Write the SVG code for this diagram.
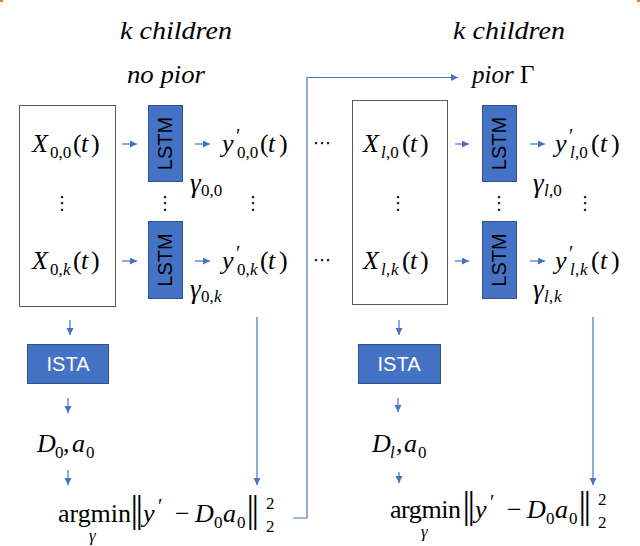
<svg xmlns="http://www.w3.org/2000/svg" width="640" height="546" viewBox="0 0 640 546">
<defs>
<marker id="ah" markerUnits="userSpaceOnUse" markerWidth="8" markerHeight="8" refX="7" refY="3.5" orient="auto">
<path d="M0,0 L7,3.5 L0,7 z" fill="#4472C4"/>
</marker>
<style>
.m{font-family:"Liberation Serif",serif;font-size:26px;fill:#000}
.i{font-style:italic}
.s{font-size:17px}
.p{font-size:20px}
.g{font-size:27px}
.h{font-family:"Liberation Serif",serif;font-style:italic;font-size:25px;fill:#000}
.lbl{font-family:"Liberation Sans",sans-serif;font-size:20px;text-anchor:middle}
.box{fill:#fff;stroke:#595959;stroke-width:1}
.blue{fill:#4472C4;stroke:#2F528F;stroke-width:1}
.arr{stroke:#4472C4;stroke-width:1.2;fill:none;marker-end:url(#ah)}
.dots{font-family:"DejaVu Sans",sans-serif;font-size:18px;text-anchor:middle;fill:#000}
.bar{font-family:"Liberation Serif",serif;font-size:38px}
</style>
</defs>
<rect width="640" height="546" fill="#fff"/>
<rect x="0" y="0" width="3" height="2" fill="#ED7D31"/>
<rect x="637" y="0" width="3" height="2" fill="#ED7D31"/>

<!-- headers -->
<g id="header-left">
<text class="h" x="120" y="39" textLength="112" lengthAdjust="spacingAndGlyphs">k children</text>
<text class="h" x="127" y="83" textLength="78" lengthAdjust="spacingAndGlyphs">no pior</text>
</g>
<g id="header-right">
<text class="h" x="453" y="39" textLength="112" lengthAdjust="spacingAndGlyphs">k children</text>
<text class="h" x="472" y="83">pior <tspan font-style="normal">Γ</tspan></text>
</g>

<!-- left block -->
<g id="input-box-0">
<rect class="box" x="19.5" y="105.5" width="96" height="201"/>
<text class="m"><tspan class="i" x="32" y="152">X</tspan><tspan class="s" x="50" y="158">0,0</tspan><tspan x="73" y="152">(</tspan><tspan class="i" x="81" y="152">t</tspan><tspan x="91" y="152">)</tspan></text>
<text class="dots" x="62" y="209">⋮</text>
<text class="m"><tspan class="i" x="32" y="269">X</tspan><tspan class="s" x="50" y="275">0,</tspan><tspan class="s i" x="63" y="275">k</tspan><tspan x="73" y="269">(</tspan><tspan class="i" x="81" y="269">t</tspan><tspan x="91" y="269">)</tspan></text>
</g>
<g id="lstm-0-0">
<rect class="blue" x="148.5" y="105.5" width="34" height="76"/>
<text class="lbl" x="165" y="150.5" transform="rotate(-90 165 143.5)">LSTM</text>
</g>
<g id="lstm-0-k">
<rect class="blue" x="148.5" y="221.5" width="34" height="77"/>
<text class="lbl" x="165" y="267" transform="rotate(-90 165 260)">LSTM</text>
</g>
<text class="dots" x="165" y="209">⋮</text>
<g id="y-0-0">
<text class="m"><tspan class="i" x="222" y="152">y</tspan><tspan class="p" x="236" y="143">′</tspan><tspan class="s" x="237" y="158">0,0</tspan><tspan x="260" y="152">(</tspan><tspan class="i" x="268" y="152">t</tspan><tspan x="279" y="152">)</tspan></text>
<text class="m"><tspan class="i g" x="190" y="192">γ</tspan><tspan class="s" x="201" y="196">0,0</tspan></text>
</g>
<text class="dots" x="253" y="209">⋮</text>
<g id="y-0-k">
<text class="m"><tspan class="i" x="222" y="269">y</tspan><tspan class="p" x="236" y="260">′</tspan><tspan class="s" x="237" y="275">0,</tspan><tspan class="s i" x="250" y="275">k</tspan><tspan x="260" y="269">(</tspan><tspan class="i" x="268" y="269">t</tspan><tspan x="279" y="269">)</tspan></text>
<text class="m"><tspan class="i g" x="190" y="298">γ</tspan><tspan class="s" x="201" y="302">0,</tspan><tspan class="s i" x="214" y="302">k</tspan></text>
</g>
<g id="ista-0">
<rect class="blue" x="27.5" y="344.5" width="81" height="39"/>
<text class="lbl" x="68" y="371" fill="#fff" font-size="21">ISTA</text>
</g>
<g id="d-0">
<text class="m"><tspan class="i" x="37" y="452">D</tspan><tspan class="s" x="55" y="458">0</tspan><tspan x="63" y="452">,</tspan><tspan class="i" x="72" y="452">a</tspan><tspan class="s" x="86" y="458">0</tspan></text>
</g>
<g id="argmin-0">
<text class="m" x="58" y="522" textLength="73">argmin</text>
<text class="m i s" x="89" y="541">γ</text>
<text class="bar"><tspan x="130.5" y="522">|</tspan><tspan x="135.5" y="522">|</tspan></text>
<text class="m"><tspan class="i" x="143" y="522">y</tspan><tspan class="p" x="158" y="513">′</tspan><tspan x="175" y="522">−</tspan><tspan class="i" x="195" y="522">D</tspan><tspan class="s" x="214" y="528">0</tspan><tspan class="i" x="223" y="522">a</tspan><tspan class="s" x="237" y="528">0</tspan></text>
<text class="bar"><tspan x="246.5" y="522">|</tspan><tspan x="251.5" y="522">|</tspan></text>
<text class="m s" x="266" y="509">2</text>
<text class="m s" x="266" y="532">2</text>
</g>

<!-- middle ellipses -->
<text class="dots" x="322" y="149">⋯</text>
<text class="dots" x="322" y="266">⋯</text>

<!-- right block -->
<g id="input-box-l">
<rect class="box" x="352.5" y="100.5" width="95" height="204"/>
<text class="m"><tspan class="i" x="363" y="152">X</tspan><tspan class="s i" x="381" y="158">l</tspan><tspan class="s" x="386" y="158">,0</tspan><tspan x="402" y="152">(</tspan><tspan class="i" x="410" y="152">t</tspan><tspan x="420" y="152">)</tspan></text>
<text class="dots" x="398" y="209">⋮</text>
<text class="m"><tspan class="i" x="363" y="269">X</tspan><tspan class="s i" x="381" y="275">l</tspan><tspan class="s" x="386" y="275">,</tspan><tspan class="s i" x="391" y="275">k</tspan><tspan x="402" y="269">(</tspan><tspan class="i" x="410" y="269">t</tspan><tspan x="420" y="269">)</tspan></text>
</g>
<g id="lstm-l-0">
<rect class="blue" x="482.5" y="105.5" width="34" height="76"/>
<text class="lbl" x="499" y="150.5" transform="rotate(-90 499 143.5)">LSTM</text>
</g>
<g id="lstm-l-k">
<rect class="blue" x="482.5" y="221.5" width="34" height="77"/>
<text class="lbl" x="499" y="267" transform="rotate(-90 499 260)">LSTM</text>
</g>
<text class="dots" x="499" y="209">⋮</text>
<g id="y-l-0">
<text class="m"><tspan class="i" x="555" y="152">y</tspan><tspan class="p" x="569" y="143">′</tspan><tspan class="s i" x="570" y="158">l</tspan><tspan class="s" x="575" y="158">,0</tspan><tspan x="591" y="152">(</tspan><tspan class="i" x="600" y="152">t</tspan><tspan x="611" y="152">)</tspan></text>
<text class="m"><tspan class="i g" x="533" y="192">γ</tspan><tspan class="s i" x="544" y="196">l</tspan><tspan class="s" x="549" y="196">,0</tspan></text>
</g>
<text class="dots" x="585" y="209">⋮</text>
<g id="y-l-k">
<text class="m"><tspan class="i" x="555" y="269">y</tspan><tspan class="p" x="569" y="260">′</tspan><tspan class="s i" x="570" y="275">l</tspan><tspan class="s" x="575" y="275">,</tspan><tspan class="s i" x="580" y="275">k</tspan><tspan x="591" y="269">(</tspan><tspan class="i" x="600" y="269">t</tspan><tspan x="611" y="269">)</tspan></text>
<text class="m"><tspan class="i g" x="533" y="298">γ</tspan><tspan class="s i" x="544" y="302">l</tspan><tspan class="s" x="549" y="302">,</tspan><tspan class="s i" x="554" y="302">k</tspan></text>
</g>
<g id="ista-l">
<rect class="blue" x="358.5" y="344.5" width="82" height="39"/>
<text class="lbl" x="399" y="371" fill="#fff" font-size="21">ISTA</text>
</g>
<g id="d-l">
<text class="m"><tspan class="i" x="372" y="452">D</tspan><tspan class="s i" x="390" y="458">l</tspan><tspan x="396" y="452">,</tspan><tspan class="i" x="404" y="452">a</tspan><tspan class="s" x="418" y="458">0</tspan></text>
</g>
<g id="argmin-l" transform="translate(332,-4)">
<text class="m" x="58" y="522" textLength="71">argmin</text>
<text class="m i s" x="89" y="541">γ</text>
<text class="bar"><tspan x="130.5" y="522">|</tspan><tspan x="135.5" y="522">|</tspan></text>
<text class="m"><tspan class="i" x="143" y="522">y</tspan><tspan class="p" x="158" y="513">′</tspan><tspan x="175" y="522">−</tspan><tspan class="i" x="195" y="522">D</tspan><tspan class="s" x="214" y="528">0</tspan><tspan class="i" x="223" y="522">a</tspan><tspan class="s" x="237" y="528">0</tspan></text>
<text class="bar"><tspan x="246.5" y="522">|</tspan><tspan x="251.5" y="522">|</tspan></text>
<text class="m s" x="266" y="509">2</text>
<text class="m s" x="266" y="532">2</text>
</g>

<!-- connectors -->
<g id="connectors">
<line class="arr" x1="122" y1="144" x2="137" y2="144"/>
<line class="arr" x1="122" y1="261" x2="137" y2="261"/>
<line class="arr" x1="195" y1="144" x2="210" y2="144"/>
<line class="arr" x1="195" y1="261" x2="210" y2="261"/>
<line class="arr" x1="455" y1="144" x2="469" y2="144"/>
<line class="arr" x1="455" y1="261" x2="469" y2="261"/>
<line class="arr" x1="530" y1="144" x2="545" y2="144"/>
<line class="arr" x1="530" y1="261" x2="545" y2="261"/>
<line class="arr" x1="70" y1="320" x2="70" y2="335"/>
<line class="arr" x1="68" y1="398" x2="68" y2="413"/>
<line class="arr" x1="68" y1="470" x2="68" y2="485"/>
<line class="arr" x1="399" y1="320" x2="399" y2="335"/>
<line class="arr" x1="398" y1="398" x2="398" y2="412"/>
<line class="arr" x1="399" y1="472" x2="399" y2="483"/>
<path class="arr" d="M257 317 V485"/>
<path class="arr" d="M593 317 V485"/>
<path class="arr" d="M293 518 H307 V77.5 H458"/>
</g>
</svg>
